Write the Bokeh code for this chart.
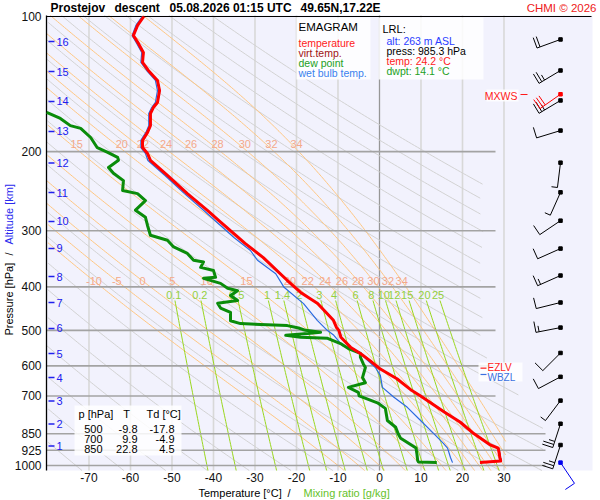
import numpy as np
from bokeh.plotting import figure
from bokeh.models import Range1d
from bokeh.embed import file_html
from bokeh.resources import INLINE
from bokeh.core.properties import value

# ---------------- data ----------------
temp_p = [100, 104.7, 110.2, 114.8, 120.3, 126.6, 131.9, 138.8, 146.2, 155.4, 159.5,
          164.5, 175.0, 181.2, 188.8, 195.8, 201.9, 209.2, 226.0, 248.0, 270.6, 284.8,
          307.3, 320.0, 344.4, 387.3, 411.7, 435.9, 475.0, 492.0, 500.0, 518.0, 545.0,
          563.0, 584.0, 608.0, 641.0, 681.0, 700.0, 717.0, 760.0, 800.0, 850.0, 900.0,
          915.0, 935.0, 960.0, 977.0, 985.3]
temp_t = [-56.8, -58.3, -59.3, -58.1, -56.9, -57.1, -55.7, -53.5, -53.0, -53.5, -54.5,
          -55.2, -55.2, -55.9, -57.1, -57.1, -55.9, -55.2, -51.1, -46.3, -41.4, -38.7,
          -34.6, -32.4, -28.0, -22.2, -19.0, -14.9, -11.1, -10.4, -9.8, -9.3, -7.0,
          -4.6, -2.3, 0.0, 4.2, 7.8, 9.9, 11.6, 15.6, 19.4, 22.8, 26.7,
          28.6, 28.8, 29.0, 29.2, 24.2]
virt_t = [-56.7, -58.2, -59.2, -58.0, -56.8, -57.0, -55.6, -53.4, -52.9, -53.4, -54.4,
          -55.1, -55.1, -55.8, -57.0, -57.0, -55.8, -55.1, -51.0, -46.2, -41.3, -38.6,
          -34.5, -32.3, -27.9, -22.1, -18.9, -14.8, -11.0, -10.3, -9.7, -9.2, -6.8,
          -4.4, -2.1, 0.2, 4.4, 8.0, 10.1, 11.8, 15.8, 19.6, 23.0, 26.9,
          28.8, 29.0, 29.2, 29.4, 24.4]

dew_p = [163.5, 168.7, 175, 177.5, 186, 196, 200.8, 206, 209,
         217, 223.5, 232, 244, 248, 257, 270, 280, 292, 307,
         315, 326, 337, 349, 352, 362, 368, 381, 383, 393,
         403, 408, 418, 429, 435, 446, 456, 476, 483, 488,
         494, 500, 505, 508, 513, 518, 521, 535, 549, 563,
         574, 594, 605, 637, 654, 670, 687, 700, 725, 746,
         794, 822, 850, 870, 914, 940, 975, 982, 985.3]
dew_t = [-80.2, -76.9, -74.5, -72.0, -69.6, -68.0, -65.5, -63.1, -62.9,
         -65.3, -64.1, -61.7, -61.9, -58.3, -56.4, -58.8, -56.4, -55.9, -55.2,
         -51.1, -49.6, -46.3, -44.8, -42.4, -43.1, -40.0, -39.5, -42.4, -38.3,
         -36.6, -34.2, -35.9, -34.2, -39.0, -38.3, -35.9, -35.9, -33.5, -22.2,
         -19.5, -17.8, -14.2, -17.3, -22.6, -19.0, -12.5, -9.4, -7.5, -4.6,
         -4.6, -3.9, -3.4, -4.1, -3.4, -7.5, -5.1, -4.9, -0.5, 1.4,
         1.9, 3.9, 4.5, 5.1, 8.8, 9.0, 9.2, 9.4, 13.8]

wet_p = [100, 104.7, 110.2, 114.8, 120.3, 126.6, 131.9, 138.8, 146.2, 155.4,
         159.5, 164.5, 175.0, 181.2, 188.8, 195.8, 201.9, 209.2, 226, 248,
         270, 285, 311, 332, 349, 374, 401, 436, 475, 500,
         513, 541, 563, 583, 605, 630, 670, 704, 742, 794,
         835, 893, 915, 960, 985.3]
wet_t = [-57.2, -58.7, -59.6, -58.5, -57.3, -57.5, -56.1, -54.0, -53.5, -54.0,
         -54.9, -55.6, -55.6, -56.3, -57.5, -57.5, -56.4, -55.8, -51.7, -47.0,
         -42.4, -39.6, -35.0, -31.1, -29.4, -25.0, -23.0, -18.3, -15.0, -12.6,
         -11.0, -8.9, -4.6, -2.9, -1.0, 0.2, 0.7, 3.4, 6.7, 9.9,
         12.3, 15.4, 16.4, 17.1, 17.6]

alt_km = [1, 2, 3, 4, 5, 6, 7, 8, 9, 10, 11, 12, 13, 14, 15, 16]
alt_p = [904.8, 808.3, 718.4, 636.8, 563.1, 495.3, 433.5, 379.4, 328.6, 286.1,
         246.6, 212.0, 180.3, 154.6, 132.6, 113.7]

iso_t = [-70, -60, -50, -40, -30, -20, -10, 0, 10, 20, 30]
p_lines = [200, 300, 400, 500, 600, 700, 850, 925, 1000]
p_lines_long = [850, 925, 1000]
theta_dry = list(range(190, 460, 10))
theta_w = [-10, -5, 0, 5, 10, 15, 20, 22, 24, 26, 28, 30, 32, 34]
mix_r = [0.1, 0.2, 0.5, 1, 1.4, 2, 3, 4, 6, 8, 10, 12, 15, 20, 25]

x_ticks = [-70, -60, -50, -40, -30, -20, -10, 0, 10, 20, 30]
y_ticks = [100, 200, 300, 400, 500, 600, 700, 850, 925, 1000]

tbl_p = [500, 700, 850]
tbl_t = [-9.8, 9.9, 22.8]
tbl_td = [-17.8, -4.9, 4.5]

lrl_alt = 263
lrl_press = 985.3
lrl_temp = 24.2
lrl_dwpt = 14.1

wind_p = [112.5, 131.9, 153.8, 179.5, 211.6, 246.4, 284.9, 328.8, 377.5, 433.5,
          493.0, 561.5, 634.6, 716.9, 807.3, 900.3]
wind_dir = [250, 239, 239, 253, 187, 204, 236, 246, 246, 256, 259, 225, 242, 217, 198, 198]
wind_kt = [20, 25, 25, 10, 5, 5, 10, 10, 15, 10, 15, 10, 10, 5, 25, 25]
mxws_p, mxws_dir, mxws_kt = 149.0, 235, 30
sfc_p, sfc_dir, sfc_kt = 985.3, 146, 10
ezlv_p, wbzl_p = 607.0, 627.0

# ---------------- helpers ----------------
FONT = "Liberation Sans"
PXC = 4.15          # px per degC
PXL = 195.0         # px per ln(p)


def tx(xpage):
    return (xpage - 379.0) / PXC


def pref(ypage):
    return 100.0 * np.exp((ypage - 16.0) / PXL)


P_TOP = pref(15)
P_BOT = pref(470)

# the frame covers the whole canvas; everything is placed with the plot's own scales
p = figure(width=600, height=500, output_backend="svg", toolbar_location=None,
           x_range=Range1d(tx(0), tx(600)), y_range=Range1d(pref(500), pref(0)),
           y_axis_type="log", min_border=0, min_border_left=0, min_border_right=0,
           min_border_top=0, min_border_bottom=0)
p.background_fill_color = "white"
p.border_fill_color = "white"
p.outline_line_color = None
p.grid.visible = False
p.axis.visible = False

# lavender diagram area
p.quad(left=[tx(46)], right=[tx(592)], top=[P_TOP], bottom=[P_BOT],
       fill_color="#f2f2fd", line_color=None)

# ---------------- background lines ----------------
other_iso = [t for t in iso_t if t != 0]
zero_iso = [t for t in iso_t if t == 0]
p.segment(x0=other_iso, x1=other_iso, y0=[P_BOT] * len(other_iso), y1=[P_TOP] * len(other_iso),
          line_color="#d8d8d8", line_width=1.6)
p.segment(x0=zero_iso, x1=zero_iso, y0=[P_BOT], y1=[P_TOP], line_color="#979797", line_width=1.3)

pgrid = np.exp(np.linspace(np.log(P_TOP), np.log(P_BOT), 260))
tmax_dry = np.interp(np.log(pgrid), [np.log(100), np.log(560), np.log(820), np.log(1100)],
                     [25.0, 25.0, 40.0, 40.0])
dry_xs, dry_ys = [], []
for th in theta_dry:
    T = th * (pgrid / 1000.0) ** 0.2857 - 273.15
    m = (T <= tmax_dry) & (T >= tx(46))
    if m.sum() > 1:
        dry_xs.append(list(T[m]))
        dry_ys.append(list(pgrid[m]))
p.multi_line(dry_xs, dry_ys, line_color="#d2d2d2", line_width=1)

Rd, cp, Lv, eps = 287.04, 1005.7, 2.501e6, 0.622


def es(Tk):
    return 6.112 * np.exp(17.67 * (Tk - 273.15) / (Tk - 29.65))


def dT(Tk, lp):
    pp = np.exp(lp)
    e = es(Tk)
    rs = eps * e / (pp - e)
    return (Rd * Tk + Lv * rs) / (cp + Lv * Lv * rs * eps / (Rd * Tk * Tk))


def integ(T0, lps):
    out = [T0]
    T = T0
    for i in range(len(lps) - 1):
        h = lps[i + 1] - lps[i]
        a = lps[i]
        k1 = dT(T, a)
        k2 = dT(T + h * k1 / 2, a + h / 2)
        k3 = dT(T + h * k2 / 2, a + h / 2)
        k4 = dT(T + h * k3, a + h)
        T = T + h * (k1 + 2 * k2 + 2 * k3 + k4) / 6
        out.append(T)
    return np.array(out)


P_LAB_HI = 197.5
P_LAB_LO = 388.0
ps_xs, ps_ys = [], []
lab200_x, lab200_t, lab400_x, lab400_t = [], [], [], []
for tw in theta_w:
    lup = np.linspace(np.log(1000), np.log(P_TOP), 300)
    ldn = np.linspace(np.log(1000), np.log(P_BOT), 8)
    Tu = integ(tw + 273.15, lup)
    Tdn = integ(tw + 273.15, ldn)
    lps = np.concatenate([ldn[::-1], lup[1:]])
    Ts = np.concatenate([Tdn[::-1], Tu[1:]]) - 273.15
    m = (Ts >= tx(46)) & (Ts <= 30.5)
    ps_xs.append(list(Ts[m]))
    ps_ys.append(list(np.exp(lps)[m]))
    tlo = np.interp(np.log(P_LAB_LO), lup[::-1], Tu[::-1]) - 273.15
    thi = np.interp(np.log(P_LAB_HI), lup[::-1], Tu[::-1]) - 273.15
    lab400_x.append(tlo)
    lab400_t.append(str(tw))
    if thi > -78:
        lab200_x.append(thi)
        lab200_t.append(str(tw))
p.multi_line(ps_xs, ps_ys, line_color="#ffc680", line_width=1)

pm = np.exp(np.linspace(np.log(pref(300)), np.log(P_BOT), 60))
mx_xs, mx_ys, mx_lab_x, mx_lab_t = [], [], [], []
for r in mix_r:
    e = r * pm / (622.0 + r)
    ln_ = np.log(e / 6.112)
    td = 243.5 * ln_ / (17.67 - ln_)
    mx_xs.append(list(td))
    mx_ys.append(list(pm))
    e4 = r * pref(294) / (622.0 + r)
    l4 = np.log(e4 / 6.112)
    mx_lab_x.append(243.5 * l4 / (17.67 - l4))
    mx_lab_t.append(f"{r:g}")
p.multi_line(mx_xs, mx_ys, line_color="#9ad71e", line_width=1)

short_p = [v for v in p_lines if v not in p_lines_long]
p.segment(x0=[tx(46)] * len(short_p), x1=[tx(495)] * len(short_p), y0=short_p, y1=short_p,
          line_color="#a3a3a3", line_width=1.6)
p.segment(x0=[tx(46)] * len(p_lines_long), x1=[tx(545)] * len(p_lines_long),
          y0=p_lines_long, y1=p_lines_long, line_color="#a3a3a3", line_width=1.6)
# top border and left axis line
p.segment(x0=[tx(46)], x1=[tx(591)], y0=[100], y1=[100], line_color="black", line_width=1.2)
p.segment(x0=[tx(46)], x1=[tx(46)], y0=[P_TOP], y1=[P_BOT], line_color="black", line_width=1.3)

lab_kw = dict(text_font=value(FONT), text_font_size=value("11px"), text_align="center",
              text_baseline="middle")
p.text(x=lab400_x, y=[pref(280)] * len(lab400_x), text=lab400_t, text_color="#f4a98a", **lab_kw)
p.text(x=lab200_x, y=[pref(143)] * len(lab200_x), text=lab200_t, text_color="#f4a98a", **lab_kw)
p.text(x=mx_lab_x, y=[pref(294)] * len(mx_lab_x), text=mx_lab_t, text_color="#94d040", **lab_kw)

# altitude marks
p.segment(x0=[tx(48)] * len(alt_p), x1=[tx(54)] * len(alt_p), y0=alt_p, y1=alt_p,
          line_color="#2020ee", line_width=1.5)
p.text(x=[tx(56)] * len(alt_p), y=alt_p, text=[str(k) for k in alt_km], text_color="#2020ee",
       text_font=value(FONT), text_font_size=value("11px"), text_align="left",
       text_baseline="middle")

# tick labels
p.text(x=x_ticks, y=[pref(477)] * len(x_ticks), text=[str(t) for t in x_ticks],
       text_color="#111111", text_font=value(FONT), text_font_size=value("12px"),
       text_align="center", text_baseline="middle")
p.text(x=[tx(41)] * len(y_ticks), y=y_ticks, text=[str(t) for t in y_ticks],
       text_color="#111111", text_font=value(FONT), text_font_size=value("12px"),
       text_align="right", text_baseline="middle")

# ---------------- data curves ----------------
p.line(virt_t, temp_p, line_color="#990000", line_width=1)
p.line(wet_t, wet_p, line_color="#2a6ae0", line_width=1.2, line_join="round")
p.line(dew_t, dew_p, line_color="#0a8c0a", line_width=3, line_join="round")
p.line(temp_t, temp_p, line_color="#ff0000", line_width=3, line_join="round")

# ---------------- boxes ----------------
bx_l = [tx(296), tx(378), tx(74), tx(478), tx(486)]
bx_r = [tx(370), tx(483), tx(181), tx(522), tx(518)]
bx_t = [pref(17), pref(17), pref(405), pref(362), pref(89)]
bx_b = [pref(79), pref(79), pref(455), pref(381), pref(101)]
p.quad(left=bx_l, right=bx_r, top=bx_t, bottom=bx_b, fill_color="white", fill_alpha=0.85,
       line_color=None)


def txt(xp, yp, s, color="black", size="10.5px", align="left", style="normal",
        baseline="middle", angle=0.0):
    p.text(x=[tx(xp)], y=[pref(yp)], text=[s], text_color=color, text_font=value(FONT),
           text_font_size=value(size), text_align=align, text_baseline=baseline,
           text_font_style=style, angle=angle)


txt(298, 26, "EMAGRAM", "black", "11.5px")
txt(298, 42, "temperature", "#ff1a1a")
txt(298, 52, "virt.temp.", "#a01414")
txt(298, 62, "dew point", "#22a022")
txt(298, 72, "wet bulb temp.", "#3a82ee")

txt(382, 28, "LRL:", "black", "11px")
txt(386, 40, f"alt: {lrl_alt} m ASL", "#2a3cff")
txt(386, 50, f"press: {lrl_press:.1f} hPa", "black")
txt(386, 60, f"temp: {lrl_temp:.1f} °C", "#ff1a1a")
txt(386, 70, f"dwpt: {lrl_dwpt:.1f} °C", "#22a022")

txt(78, 413, "p [hPa]", "black", "11px")
txt(126, 413, "T", "black", "11px", "center")
txt(146, 413, "Td [°C]", "black", "11px")
for i in range(len(tbl_p)):
    yy = 428 + 10 * i
    txt(102, yy, str(tbl_p[i]), "black", "11px", "right")
    txt(137, yy, f"{tbl_t[i]:.1f}", "black", "11px", "right")
    txt(174, yy, f"{tbl_td[i]:.1f}", "black", "11px", "right")

txt(487, 367, "EZLV", "#ff1a1a", "10px")
txt(487, 377, "WBZL", "#3a70e0", "10px")
p.segment(x0=[tx(480)], x1=[tx(486)], y0=[ezlv_p], y1=[ezlv_p], line_color="#ff1a1a", line_width=1.2)
p.segment(x0=[tx(480)], x1=[tx(486)], y0=[wbzl_p], y1=[wbzl_p], line_color="#3a70e0", line_width=1.2)
txt(517, 95, "MXWS", "#ff1a1a", "10.5px", "right")
p.segment(x0=[tx(520)], x1=[tx(527)], y0=[pref(94)], y1=[pref(94)], line_color="#ff1a1a",
          line_width=1.2)

# axis titles and header
txt(198, 492, "Temperature [°C]", "black", "11px")
txt(287, 492, "/", "black", "11px")
txt(303, 492, "Mixing ratio [g/kg]", "#66c22a", "11px")

txt(8, 335, "Pressure [hPa]", "black", "11px", angle=np.pi / 2)
txt(8, 255, "/", "black", "11px", angle=np.pi / 2)
txt(8, 244, "Altitude [km]", "#2a2aee", "11px", angle=np.pi / 2)

txt(50, 7.5, "Prostejov", "black", "12px", style="bold")
txt(114, 7.5, "descent", "black", "12px", style="bold")
txt(169, 7.5, "05.08.2026 01:15 UTC", "black", "12px", style="bold")
txt(300, 7.5, "49.65N,17.22E", "black", "12px", style="bold")
txt(596, 7.5, "CHMI © 2026", "#ee2020", "11.5px", align="right")


# ---------------- wind barbs ----------------
def barb(p0, d, kt, segs, dots):
    x0 = tx(560)
    b = np.radians(d)
    sx, sy = np.sin(b), -np.cos(b)
    fx, fy = np.cos(b), np.sin(b)
    L, FL, HL, GAP = 25.0, 11.0, 6.0, 3.2

    def pt(dx, dy):
        return x0 + dx / PXC, p0 * np.exp(dy / PXL)

    lines = [(0, 0, L * sx, L * sy)]
    pos = L
    for _ in range(kt // 10):
        lines.append((pos * sx, pos * sy, pos * sx + FL * fx, pos * sy + FL * fy))
        pos -= GAP
    for _ in range((kt % 10) // 5):
        lines.append((pos * sx, pos * sy, pos * sx + HL * fx, pos * sy + HL * fy))
        pos -= GAP
    for a, c, e_, f in lines:
        xa, ya = pt(a, c)
        xb, yb = pt(e_, f)
        segs["x0"].append(xa); segs["y0"].append(ya)
        segs["x1"].append(xb); segs["y1"].append(yb)
    dots["x"].append(x0); dots["y"].append(p0)


def new():
    return dict(x0=[], y0=[], x1=[], y1=[]), dict(x=[], y=[])


blk, blk_d = new()
for i in range(len(wind_p)):
    barb(wind_p[i], wind_dir[i], wind_kt[i], blk, blk_d)
red, red_d = new()
barb(mxws_p, mxws_dir, mxws_kt, red, red_d)
blu, blu_d = new()
barb(sfc_p, sfc_dir, sfc_kt, blu, blu_d)
for segs, dots, col in ((blk, blk_d, "black"), (red, red_d, "#ff0000"), (blu, blu_d, "#0000ee")):
    p.segment(x0=segs["x0"], y0=segs["y0"], x1=segs["x1"], y1=segs["y1"],
              line_color=col, line_width=1)
    p.scatter(dots["x"], dots["y"], marker="square", size=3.5, color=col)

open("out.html", "w").write(file_html(p, INLINE))
